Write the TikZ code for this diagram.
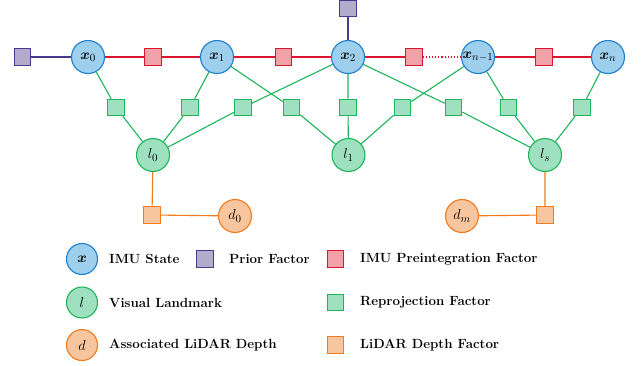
\documentclass[tikz,border=0pt]{standalone}
\usepackage{amsmath,bm}
\definecolor{xb}{HTML}{1F7FCC}\definecolor{xbf}{HTML}{9ECFEC}
\definecolor{lg}{HTML}{1DB45A}\definecolor{lgf}{HTML}{9EE0BF}
\definecolor{od}{HTML}{F07B1C}\definecolor{odf}{HTML}{F7C59E}
\definecolor{rr}{HTML}{DA1530}\definecolor{rrf}{HTML}{F0A2A8}
\definecolor{pp}{HTML}{463A8C}\definecolor{ppf}{HTML}{B3ABCC}
\begin{document}
\begin{tikzpicture}[x=1pt,y=-1pt,
  every node/.style={font=\fontsize{13}{15}\selectfont},
  var/.style={circle,minimum size=33pt,inner sep=0pt,line width=1.1pt,font=\fontsize{15}{17}\selectfont},
  xv/.style={var,draw=xb,fill=xbf},
  lv/.style={var,draw=lg,fill=lgf},
  dv/.style={var,draw=od,fill=odf},
  fac/.style={rectangle,minimum size=16.5pt,inner sep=0pt,line width=1.1pt},
  pf/.style={fac,draw=pp,fill=ppf},
  rf/.style={fac,draw=rr,fill=rrf},
  gf/.style={fac,draw=lg,fill=lgf},
  of/.style={fac,draw=od,fill=odf},
  pe/.style={draw=pp,line width=1.1pt},
  re/.style={draw=rr,line width=1.1pt},
  ge/.style={draw=lg,line width=1.1pt},
  oe/.style={draw=od,line width=1.1pt},
  lab/.style={anchor=west,inner sep=0pt,font=\fontsize{13.3}{15}\selectfont\bfseries}]
\useasboundingbox (0,0) rectangle (643,365);
% variables
\node[xv] (x0) at (88,57) {$\bm{x}_0$};
\node[xv] (x1) at (217,57) {$\bm{x}_1$};
\node[xv] (x2) at (348,57) {$\bm{x}_2$};
\node[xv] (xm) at (478,57) {$\bm{x}_{n-1}$};
\node[xv] (xn) at (608,57) {$\bm{x}_n$};
\node[lv] (l0) at (153,155) {$l_0$};
\node[lv] (l1) at (348.5,155) {$l_1$};
\node[lv] (ls) at (545,155) {$l_s$};
\node[dv] (d0) at (235,216) {$d_0$};
\node[dv] (dm) at (462,216) {$d_m$};
% factors
\node[pf] (p0) at (22.5,57) {};
\node[pf] (p2) at (348,8.5) {};
\node[rf] (r1) at (153,57) {};
\node[rf] (r2) at (283.5,57) {};
\node[rf] (r3) at (414,57) {};
\node[rf] (r4) at (544,57) {};
\node[gf] (g1) at (116,107.5) {};
\node[gf] (g2) at (190,107.5) {};
\node[gf] (g3) at (243,107.5) {};
\node[gf] (g4) at (291.5,107.5) {};
\node[gf] (g5) at (348,107.5) {};
\node[gf] (g6) at (402.5,107.5) {};
\node[gf] (g7) at (453.5,107.5) {};
\node[gf] (g8) at (508.5,107.5) {};
\node[gf] (g9) at (582,107.5) {};
\node[of] (o0) at (152,215) {};
\node[of] (om) at (545,215) {};
% edges
\draw[pe] (p0) -- (x0);
\draw[pe] (p2) -- (x2);
\draw[re] (x0) -- (r1) -- (x1) -- (r2) -- (x2) -- (r3);
\draw[re,dotted] (r3) -- (xm);
\draw[re] (xm) -- (r4) -- (xn);
\draw[ge] (x0) -- (g1) -- (l0);
\draw[ge] (x1) -- (g2) -- (l0);
\draw[ge] (x2) -- (g3) -- (l0);
\draw[ge] (x1) -- (g4) -- (l1);
\draw[ge] (x2) -- (g5) -- (l1);
\draw[ge] (xm) -- (g6) -- (l1);
\draw[ge] (x2) -- (g7) -- (ls);
\draw[ge] (xm) -- (g8) -- (ls);
\draw[ge] (xn) -- (g9) -- (ls);
\draw[oe] (l0) -- (o0) -- (d0);
\draw[oe] (ls) -- (om) -- (dm);
% legend
\node[xv,minimum size=31pt] (kx) at (82,259) {$\bm{x}$};
\node[lab] (tx) at (109,259) {IMU State};
\node[pf] (kp) at (205,259) {};
\node[lab] (tp) at (229,259) {Prior Factor};
\node[rf] (kr) at (335.5,259) {};
\node[lab] (tr) at (360,259) {IMU Preintegration Factor};
\node[lv,minimum size=31pt] (kl) at (82,302.5) {$l$};
\node[lab] (tl) at (109,302.5) {Visual Landmark};
\node[gf] (kg) at (335.5,302.5) {};
\node[lab] (tg) at (360,302.5) {Reprojection Factor};
\node[dv,minimum size=31pt] (kd) at (82,345) {$d$};
\node[lab] (td) at (109,345) {Associated LiDAR Depth};
\node[of] (ko) at (335.5,345) {};
\node[lab] (to) at (360,345) {LiDAR Depth Factor};
\end{tikzpicture}
\end{document}
